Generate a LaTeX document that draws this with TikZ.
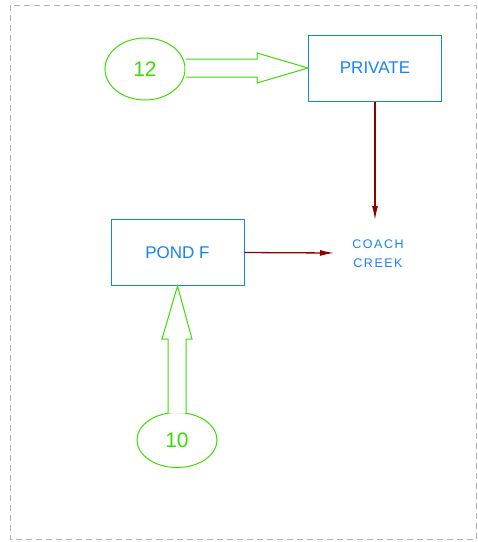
\documentclass[tikz,border=0pt]{standalone}
\usepackage{fontspec}
\setmainfont{Liberation Sans}
\newfontfamily\creekfont[LetterSpace=12]{Liberation Sans}
\usetikzlibrary{arrows.meta,shapes.geometric}
\definecolor{grn}{RGB}{60,220,0}
\definecolor{blu}{RGB}{20,130,255}
\definecolor{dred}{RGB}{140,0,0}
\begin{document}
\begin{tikzpicture}[x=1pt,y=-1pt,
  boxnode/.style={draw=blu,line width=1pt,text=blu,minimum width=133pt,minimum height=66pt,inner sep=0pt,font=\fontsize{17}{20}\selectfont},
  ellnode/.style={draw=grn,line width=1pt,ellipse,text=grn,inner sep=0pt,font=\fontsize{21}{24}\selectfont},
  fatarrow/.style={draw=grn,line width=1pt,fill=white},
  flow/.style={draw=dred,line width=1.3pt,-{Latex[length=14pt,width=6pt]}}]
\useasboundingbox (0,0) rectangle (478,542);
\draw[gray!60,dash pattern=on 6pt off 4pt,line width=0.9pt] (10.5,5) rectangle (476,539);
\node[ellnode,minimum width=80pt,minimum height=62pt] (e12) at (145,69) {12};
\node[boxnode] (priv) at (375,68) {PRIVATE};
\node[boxnode] (pond) at (177.5,252.5) {POND F};
\node[ellnode,minimum width=80pt,minimum height=55pt] (e10) at (177,440) {10};
\node[text=blu,align=center,font=\creekfont\fontsize{12.5}{19.5}\selectfont,inner sep=0pt] (creek) at (378,253.5) {COACH\\CREEK};
\coordinate (ctop) at (375,220);
\coordinate (cleft) at (334,253);
% fat arrow 12 -> PRIVATE
\draw[fatarrow] (e12.east |- 0,59) -- (257,59) -- (257,53) -- (priv.west) -- (257,83) -- (257,77) -- (e12.east |- 0,77);
% fat arrow 10 -> POND F
\draw[fatarrow] (168,413) -- (168,339) -- (162,339) -- (pond.south) -- (192,339) -- (186,339) -- (186,413);
\draw[flow] (priv.south) -- (ctop);
\draw[flow] (pond.east) -- (cleft);
\end{tikzpicture}
\end{document}
